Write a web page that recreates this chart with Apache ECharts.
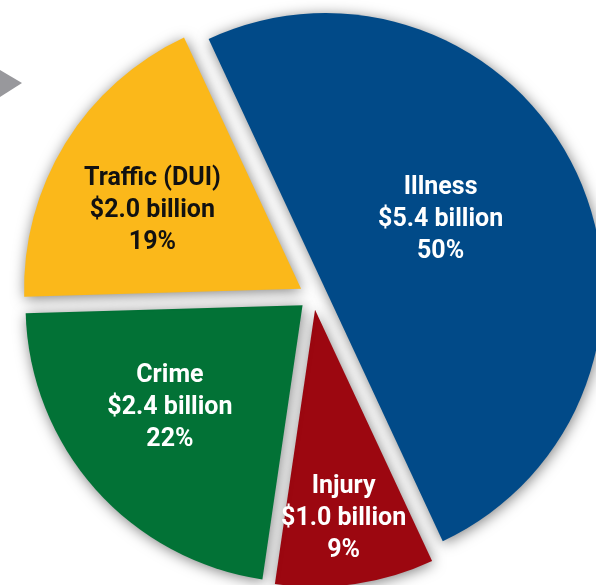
<!DOCTYPE html>
<html>
<head>
<meta charset="utf-8">
<script src="https://cdn.jsdelivr.net/npm/echarts@6/dist/echarts.min.js"></script>
<style>
html,body{margin:0;padding:0;background:#fff;}
#chart{width:596px;height:585px;}
</style>
</head>
<body>
<div id="chart"></div>
<script>
// ---- data ----
const categories = ['Illness', 'Injury', 'Crime', 'Traffic (DUI)'];
const costsBillion = [5.4, 1.0, 2.4, 2.0];

// ---- style ----
const sliceColors = ['#014a88', '#9c0710', '#027236', '#fbb81a'];
const labelColors = ['#ffffff', '#ffffff', '#ffffff', '#111111'];
// label placement: fraction of radius, angle nudge (deg)
const labelRadiusFrac = [0.526, 0.80, 0.645, 0.646];
const labelAngleNudge = [6.0, -0.5, -3.7, 3.7];

const START_ANGLE = 115;
const CX = 313, CY = 296, R = 277, OFFSET = 14;

const total = costsBillion.reduce((a, b) => a + b, 0);
const midAngles = [];
(function () {
  let a = START_ANGLE;
  costsBillion.forEach(v => {
    const span = v / total * 360;
    midAngles.push(a - span / 2);
    a -= span;
  });
})();

// shift of each label from ECharts' default 'inside' spot
function labelShift(i) {
  const a = midAngles[i] * Math.PI / 180;
  const b = (midAngles[i] + labelAngleNudge[i]) * Math.PI / 180;
  const r0 = R / 2 + OFFSET;
  const r1 = labelRadiusFrac[i] * R;
  return [r1 * Math.cos(b) - r0 * Math.cos(a), -(r1 * Math.sin(b) - r0 * Math.sin(a))];
}

function labelOpts(i) {
  const [dx, dy] = labelShift(i);
  return {
    color: labelColors[i],
    padding: [0, dx < 0 ? -2 * dx : 0, 0, dx > 0 ? 2 * dx : 0],
    rich: {
      t: {color: labelColors[i], fontFamily: 'Roboto', fontWeight: 'bold', fontSize: 25, lineHeight: 32},
      top: {height: dy > 0 ? 2 * dy : 0, lineHeight: dy > 0 ? 2 * dy : 0},
      bot: {height: dy < 0 ? -2 * dy : 0, lineHeight: dy < 0 ? -2 * dy : 0}
    }
  };
}

const chart = echarts.init(document.getElementById('chart'), null, {renderer: 'canvas'});
chart.setOption({
  animation: false,
  backgroundColor: '#ffffff',
  graphic: [{
    type: 'polygon',
    shape: {points: [[0, 70], [22, 83], [0, 97]]},
    style: {fill: '#98989c'}
  }],
  series: [{
    type: 'pie',
    center: [CX, CY],
    radius: [0, R],
    startAngle: START_ANGLE,
    clockwise: true,
    selectedMode: 'multiple',
    selectedOffset: OFFSET,
    emphasis: {scale: false, disabled: true},
    avoidLabelOverlap: false,
    labelLayout: {hideOverlap: false},
    itemStyle: {
      shadowBlur: 14,
      shadowColor: 'rgba(0,0,0,0.5)',
      shadowOffsetX: 1,
      shadowOffsetY: 2
    },
    label: {
      show: true,
      position: 'inside',
      overflow: 'none',
      fontFamily: 'Roboto',
      fontWeight: 'bold',
      fontSize: 25,
      lineHeight: 32,
      align: 'center',
      verticalAlign: 'middle',
      formatter: p => '{top|}\n{t|' + p.name + '}\n{t|$' + p.value.toFixed(1) + ' billion}\n{t|' +
        Math.round(p.percent) + '%}\n{bot|}'
    },
    labelLine: {show: false},
    data: categories.map((name, i) => ({
      name: name,
      value: costsBillion[i],
      selected: true,
      itemStyle: {color: sliceColors[i]},
      label: labelOpts(i),
      select: {itemStyle: {color: sliceColors[i], borderWidth: 0}, label: labelOpts(i)}
    }))
  }]
});
</script>
</body>
</html>
